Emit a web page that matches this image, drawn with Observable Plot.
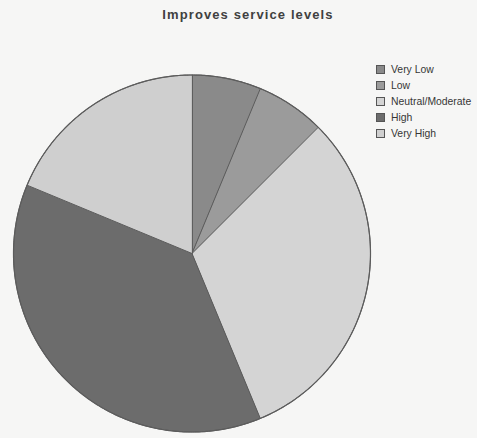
<!DOCTYPE html>
<html>
<head>
<meta charset="utf-8">
<script src="https://cdn.jsdelivr.net/npm/d3@7"></script>
<script src="https://cdn.jsdelivr.net/npm/@observablehq/plot@0.6"></script>
<style>
  html, body { margin: 0; padding: 0; background: #f6f6f5; }
  #chart { position: relative; width: 477px; height: 438px; overflow: hidden;
           font-family: "Liberation Sans", Arial, sans-serif; }
  #chart svg.pie { position: absolute; left: 0; top: 0; }
  #title { position: absolute; left: 0; width: 496px; top: 7px; text-align: center;
           font-size: 13px; font-weight: bold; color: #404040; letter-spacing: 1.1px; }
  #legend { position: absolute; left: 376px; top: 62px; }
  #legend .item { display: flex; align-items: center; height: 15.8px; }
  #legend .sw { width: 9px; height: 9px; border: 1px solid #555; box-sizing: border-box; margin-right: 6px; }
  #legend .lab { font-size: 10.4px; color: #363636; white-space: nowrap; }
</style>
</head>
<body>
<div id="chart">
  <div id="title"></div>
  <div id="legend"></div>
</div>
<script>
// Responses to "Improves service levels"
const title = "Improves service levels";
const categories = ["Very Low", "Low", "Neutral/Moderate", "High", "Very High"];
const counts = [1, 1, 5, 6, 3];
const shades = ["#8a8a8a", "#9b9b9b", "#d4d4d4", "#6c6c6c", "#cfcfcf"];

const rows = categories.map((category, i) => ({category, count: counts[i]}));

// Slice angles, clockwise from 12 o'clock, in input order
const arcs = d3.pie().sort(null).value(d => d.count)(rows);

// Each slice as a planar polygon on the unit circle (y up)
const slices = {
  type: "FeatureCollection",
  features: arcs.map(a => {
    const ring = [[0, 0]];
    const steps = Math.max(2, Math.ceil((a.endAngle - a.startAngle) / 0.01));
    for (let k = 0; k <= steps; ++k) {
      const t = a.startAngle + (a.endAngle - a.startAngle) * k / steps;
      ring.push([Math.sin(t), Math.cos(t)]);
    }
    ring.push([0, 0]);
    return {type: "Feature", properties: {category: a.data.category}, geometry: {type: "Polygon", coordinates: [ring]}};
  })
};

const chart = Plot.plot({
  width: 477,
  height: 438,
  marginLeft: 13,
  marginRight: 107,
  marginTop: 73,
  marginBottom: 5,
  projection: {type: "reflect-y", domain: {type: "MultiPoint", coordinates: [[-1, -1], [1, 1]]}},
  color: {domain: categories, range: shades},
  marks: [
    Plot.geo(slices, {fill: d => d.properties.category, stroke: "#5c5c5c", strokeWidth: 1}),
    Plot.geo({type: "Polygon", coordinates: [d3.range(0, 2 * Math.PI + 0.005, 0.01).map(t => [Math.sin(t), Math.cos(t)])]},
             {fill: "none", stroke: "#5c5c5c", strokeWidth: 1.2})
  ],
  style: {background: "transparent"}
});
chart.classList.add("pie");
document.getElementById("chart").appendChild(chart);

document.getElementById("title").textContent = title;

// Legend built from the plot's own color scale
const color = chart.scale("color");
const legend = d3.select("#legend");
categories.forEach((c, i) => {
  const item = legend.append("div").attr("class", "item");
  item.append("div").attr("class", "sw").style("background", color.range[i]);
  item.append("div").attr("class", "lab").text(c);
});
</script>
</body>
</html>
